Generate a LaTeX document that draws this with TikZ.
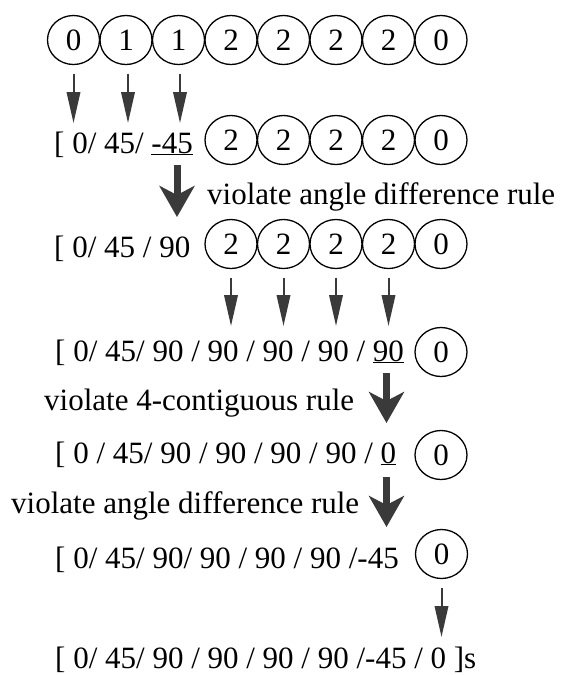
\documentclass[tikz,border=0pt]{standalone}
\usepackage{fontspec}
\setmainfont{Liberation Serif}
\usetikzlibrary{arrows.meta,shapes.geometric}
\definecolor{arr}{HTML}{3A3A3A}
\newcommand{\ulw}[1]{\setbox0\hbox{#1}\rlap{\rule[-2.4pt]{\wd0}{1.5pt}}\box0}
\begin{document}
\begin{tikzpicture}[x=1pt,y=-1pt,
  font=\fontsize{31}{37}\selectfont,
  digit/.style={draw, line width=1.3pt, ellipse, minimum width=52pt, minimum height=49pt, inner sep=0pt},
  txt/.style={anchor=base west, inner sep=0pt},
  sarrow/.style={draw=arr, line width=2pt, -{Triangle[length=31pt,width=13.5pt]}},
  barrow/.style={draw=arr, line width=7pt, -{Stealth[length=31pt,width=35pt,inset=9pt]}}]
\useasboundingbox (0,0) rectangle (560,675);
% row 1
\foreach \v [count=\i] in {0,1,1,2,2,2,2,0}{
  \node[digit] (t\i) at ({73.5+52.5*(\i-1)},40) {\v};
}
\coordinate (a1) at (73.5,123);
\coordinate (a2) at (128,123);
\coordinate (a3) at (180,123);
\draw[sarrow] ([yshift=-8.5pt]t1.south) -- (a1);
\draw[sarrow] ([xshift=2pt,yshift=-8.5pt]t2.south) -- (a2);
\draw[sarrow] ([xshift=1.5pt,yshift=-8.5pt]t3.south) -- (a3);
% row 2
\node[txt] (r2) at (54,153) {[ 0/ 45/ \ulw{-45}};
\foreach \v [count=\i] in {2,2,2,2,0}{
  \node[digit] (s\i) at ({231+52.5*(\i-1)},140) {\v};
}
\coordinate (b1s) at (177,165);
\coordinate (b1e) at (177,217);
\draw[barrow] (b1s) -- (b1e);
\node[txt] (l1) at (207,204) {violate angle difference rule};
% row 3
\node[txt] (r3) at (54,257) {[ 0/ 45 / 90};
\foreach \v [count=\i] in {2,2,2,2,0}{
  \node[digit] (u\i) at ({231+52.5*(\i-1)},244) {\v};
}
\foreach \i in {1,2,3,4}{
  \coordinate (c\i) at ({231+52.5*(\i-1)},326);
  \draw[sarrow] ([yshift=-8.5pt]u\i.south) -- (c\i);
}
% row 4
\node[txt] (r4) at (55,361) {[ 0/ 45/ 90 / 90 / 90 / 90 / \ulw{90}};
\node[digit] (w1) at (441,352) {0};
\coordinate (b2s) at (386.5,373);
\coordinate (b2e) at (386.5,423);
\draw[barrow] (b2s) -- (b2e);
\node[txt] (l2) at (44,410) {violate 4-contiguous rule};
% row 5
\node[txt] (r5) at (55,463) {[ 0 / 45/ 90 / 90 / 90 / 90 / \ulw{0}};
\node[digit] (x1) at (441,455) {0};
\coordinate (b3s) at (386.5,477);
\coordinate (b3e) at (386.5,527);
\draw[barrow] (b3s) -- (b3e);
\node[txt] (l3) at (11,513) {violate angle difference rule};
% row 6
\node[txt] (r6) at (55,568) {[ 0/ 45/ 90/ 90 / 90 / 90 /-45};
\node[digit] (y1) at (441.5,554) {0};
\coordinate (d1) at (441.5,637);
\draw[sarrow] ([yshift=-8.5pt]y1.south) -- (d1);
% final
\node[txt] (r7) at (55,668) {[ 0/ 45/ 90 / 90 / 90 / 90 /-45 / 0 ]s};
\end{tikzpicture}
\end{document}
